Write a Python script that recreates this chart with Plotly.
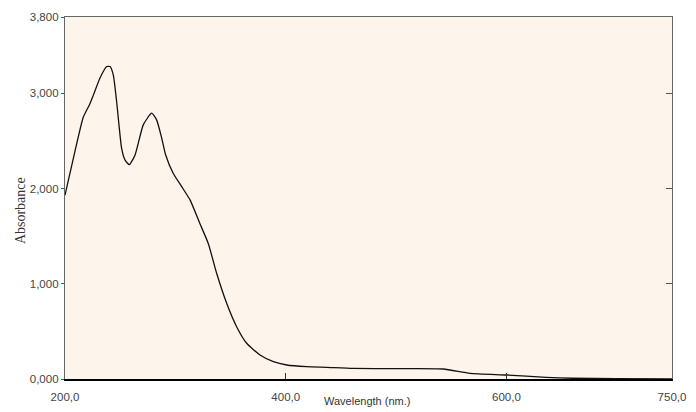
import plotly.graph_objects as go

# Data
wavelength = [200, 209, 216.6, 222.6, 225.7, 231.7, 237.8, 240.8, 243.8, 246.8, 251.3, 254.3,
              258.3, 263.4, 271, 278.5, 283, 287.6, 291, 298, 305.7, 313.3, 322.3, 329.9,
              337.4, 346.5, 355.5, 364.6, 376.7, 388.8, 400.9, 419, 437, 461, 500, 542.7,
              567, 600, 636, 660, 700, 750]
absorbance = [1.93, 2.39, 2.75, 2.89, 2.98, 3.16, 3.28, 3.28, 3.19, 2.91, 2.42, 2.30,
              2.25, 2.35, 2.67, 2.79, 2.72, 2.53, 2.36, 2.16, 2.02, 1.88, 1.63, 1.42,
              1.11, 0.795, 0.549, 0.375, 0.252, 0.182, 0.147, 0.129, 0.122, 0.111, 0.108, 0.105,
              0.060, 0.042, 0.018, 0.008, 0.003, 0.0]

x_ticks = [200, 400, 600, 750]
y_ticks = [0, 1, 2, 3, 3.8]

fig = go.Figure()
fig.add_trace(go.Scatter(x=wavelength, y=absorbance, mode="lines",
                         line=dict(color="#111111", width=1.3, shape="spline", smoothing=0.5),
                         hoverinfo="skip", showlegend=False))
fig.add_trace(go.Scatter(x=wavelength, y=absorbance, mode="lines", xaxis="x2", yaxis="y2",
                         line=dict(color="rgba(0,0,0,0)", width=0),
                         hoverinfo="skip", showlegend=False))

tickfont = dict(family="Liberation Sans, Arial, sans-serif", size=11.5, color="#444444")

fig.update_layout(
    width=696, height=412,
    margin=dict(l=65, r=24, t=17, b=33),
    paper_bgcolor="white",
    plot_bgcolor="#FDF5EC",
    separators=", ",
    xaxis=dict(range=[200, 750], tickvals=x_ticks, tickformat=".1f",
               showgrid=False, zeroline=False, automargin=False,
               showline=True, linecolor="#000000", linewidth=2,
               ticks="inside", ticklen=6, tickcolor="#333333", tickwidth=1,
               tickfont=tickfont, ticklabelstandoff=6),
    yaxis=dict(range=[0, 3.8], tickvals=y_ticks, tickformat=".3f",
               showgrid=False, zeroline=False, automargin=False,
               showline=True, linecolor="#666666", linewidth=1.3,
               ticks="outside", ticklen=3, tickcolor="#555555", tickwidth=1,
               tickfont=tickfont, ticklabelstandoff=0),
    xaxis2=dict(range=[200, 750], overlaying="x", side="top", showgrid=False,
                zeroline=False, showline=True, linecolor="#666666", linewidth=1.3,
                showticklabels=False, ticks="", automargin=False),
    yaxis2=dict(range=[0, 3.8], overlaying="y", side="right", showgrid=False,
                zeroline=False, showline=True, linecolor="#666666", linewidth=1.3,
                tickvals=y_ticks, ticks="inside", ticklen=6, tickcolor="#555555",
                showticklabels=False, automargin=False),
    annotations=[
        dict(text="Absorbance", xref="paper", yref="paper", x=-0.074, y=0.464,
             textangle=-90, showarrow=False, xanchor="center", yanchor="middle",
             font=dict(family="Liberation Serif, Times New Roman, serif", size=14, color="#333333")),
        dict(text="Wavelength (nm.)", xref="paper", yref="paper", x=0.4975, y=-0.061,
             showarrow=False, xanchor="center", yanchor="middle",
             font=dict(family="Liberation Sans, Arial, sans-serif", size=11, color="#333333")),
    ],
)

fig.write_html("out.html", config={"displayModeBar": False},
               post_script="document.body.style.margin='0';document.body.style.overflow='hidden';")
